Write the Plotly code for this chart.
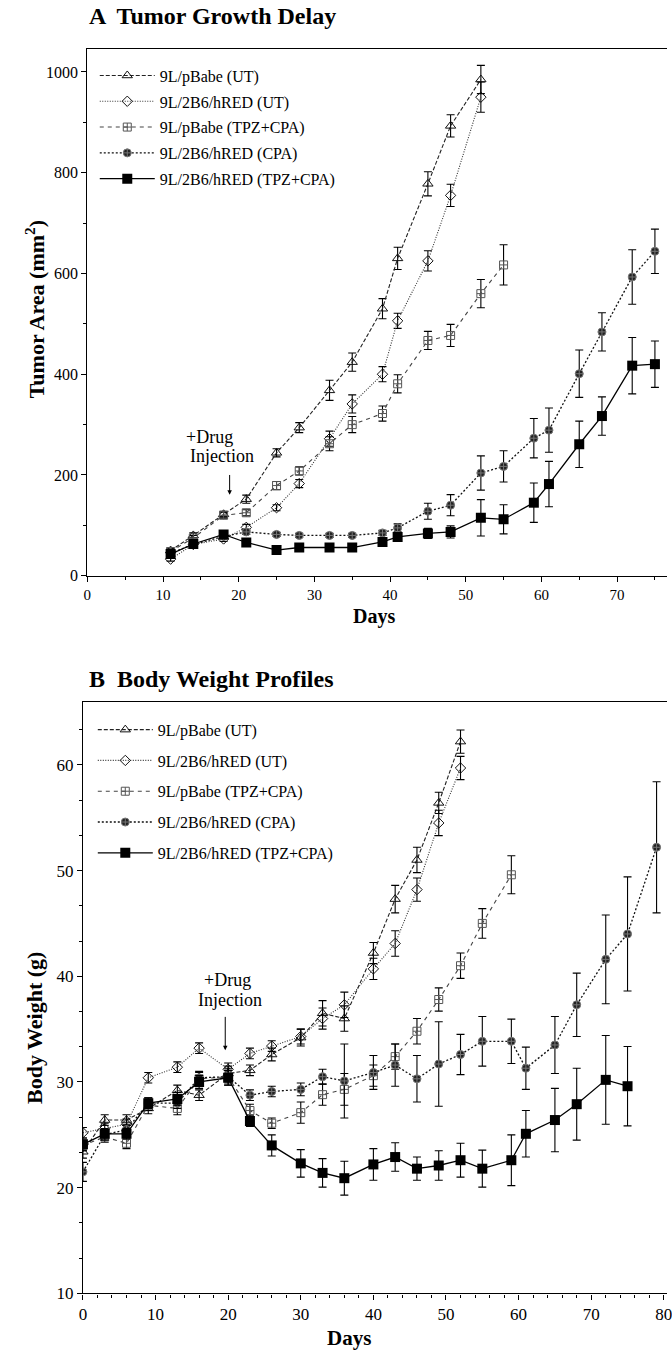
import plotly.graph_objects as go

W, H = 672, 1360

# ---------------- Panel A : Tumor growth ----------------
days_A_ut = [11, 14, 18, 21, 25, 28, 32, 35, 39, 41, 45, 48, 52]
pbabe_ut_A = [50, 80, 122, 152, 244, 294, 368, 424, 530, 630, 778, 893, 985]
pbabe_ut_A_err = [5, 5, 6, 8, 8, 10, 20, 18, 20, 22, 24, 22, 28]
hred_ut_A = [33, 62, 73, 96, 135, 183, 272, 341, 400, 506, 625, 755, 950]
hred_ut_A_err = [4, 5, 5, 6, 6, 8, 15, 18, 15, 15, 20, 22, 30]

days_A_pbtpz = [11, 14, 18, 21, 25, 28, 32, 35, 39, 41, 45, 48, 52, 55]
pbabe_tpz_A = [48, 75, 120, 125, 179, 208, 262, 300, 322, 381, 467, 477, 560, 617]
pbabe_tpz_A_err = [5, 5, 6, 6, 8, 8, 14, 16, 15, 18, 18, 22, 28, 40]

days_A_long = [11, 14, 18, 21, 25, 28, 32, 35, 39, 41, 45, 48, 52, 55, 59, 61, 65, 68, 72, 75]
hred_cpa_A = [45, 62, 78, 87, 82, 80, 80, 80, 85, 95, 128, 140, 204, 217, 273, 289, 401, 484, 593, 644]
hred_cpa_A_err = [4, 4, 5, 5, 4, 4, 4, 4, 5, 8, 16, 21, 34, 31, 39, 44, 47, 38, 54, 44]
hred_tpz_A = [43, 63, 82, 66, 51, 56, 56, 56, 67, 77, 84, 87, 115, 112, 145, 182, 261, 317, 417, 420]
hred_tpz_A_err = [4, 4, 5, 4, 3, 3, 3, 3, 4, 6, 10, 12, 36, 29, 39, 45, 46, 38, 56, 46]

# ---------------- Panel B : Body weight ----------------
days_B_ut = [0, 3, 6, 9, 13, 16, 20, 23, 26, 30, 33, 36, 40, 43, 46, 49, 52]
pbabe_ut_B = [23.4, 26.4, 26.4, 27.5, 29.2, 28.75, 30.8, 31.1, 32.6, 34.2, 36.5, 36.0, 42.2, 47.3, 51.0, 56.4, 62.2]
pbabe_ut_B_err = [0.6, 0.5, 0.5, 0.5, 0.5, 0.5, 0.7, 0.5, 0.6, 0.8, 1.2, 1.2, 1.0, 1.3, 1.2, 1.0, 1.1]
hred_ut_B = [25.2, 25.6, 26.0, 30.4, 31.4, 33.2, 31.2, 32.7, 33.4, 34.3, 36.0, 37.3, 40.7, 43.1, 48.2, 54.5, 59.7]
hred_ut_B_err = [0.5, 0.5, 0.5, 0.5, 0.5, 0.5, 0.6, 0.5, 0.5, 0.7, 1.0, 1.2, 1.0, 1.2, 1.1, 1.2, 1.1]

days_B_pbtpz = [0, 3, 6, 9, 13, 16, 20, 23, 26, 30, 33, 36, 40, 43, 46, 49, 52, 55, 59]
pbabe_tpz_B = [24.0, 24.8, 24.2, 27.8, 27.5, 30.3, 30.5, 27.3, 26.1, 27.1, 28.8, 29.3, 30.6, 32.4, 34.8, 37.8, 41.0, 45.0, 49.6]
pbabe_tpz_B_err = [0.5, 0.5, 0.5, 0.5, 0.6, 0.6, 0.8, 0.6, 0.5, 1.0, 1.0, 1.5, 1.0, 1.2, 1.2, 1.1, 1.2, 1.4, 1.8]

days_B_cpa = [0, 3, 6, 9, 13, 16, 20, 23, 26, 30, 33, 36, 40, 43, 46, 49, 52, 55, 59, 61, 65, 68, 72, 75, 79]
hred_cpa_B = [21.5, 25.0, 25.5, 28.0, 28.0, 30.4, 30.5, 28.75, 29.1, 29.3, 30.5, 30.1, 30.9, 31.6, 30.3, 31.7,
              32.6, 33.85, 33.85, 31.3, 33.5, 37.3, 41.6, 44.0, 52.2]
hred_cpa_B_err = [0.9, 0.5, 0.5, 0.5, 0.5, 0.6, 0.6, 0.5, 0.5, 0.6, 0.7, 3.5, 1.6, 2.0, 2.2, 4.0, 1.9, 2.35,
                  2.1, 2.0, 2.7, 3.0, 4.2, 5.4, 6.2]

days_B_tpz = [0, 3, 6, 9, 13, 16, 20, 23, 26, 30, 33, 36, 40, 43, 46, 49, 52, 55, 59, 61, 65, 68, 72, 75]
hred_tpz_B = [24.1, 25.1, 25.1, 28.0, 28.4, 30.0, 30.4, 26.3, 24.0, 22.3, 21.4, 20.9, 22.2, 22.9, 21.8, 22.1,
              22.6, 21.8, 22.6, 25.1, 26.4, 27.9, 30.2, 29.6]
hred_tpz_B_err = [0.6, 0.5, 0.5, 0.5, 0.6, 0.6, 0.7, 0.5, 1.0, 1.3, 1.35, 1.6, 1.5, 1.35, 1.1, 1.4, 1.6, 1.75,
                  2.4, 2.2, 3.0, 3.4, 4.2, 3.75]

names = ["9L/pBabe (UT)", "9L/2B6/hRED (UT)", "9L/pBabe (TPZ+CPA)", "9L/2B6/hRED (CPA)", "9L/2B6/hRED (TPZ+CPA)"]

styles = [
    dict(marker=dict(symbol="triangle-up-open", size=9, color="#111", line=dict(width=1, color="#111")),
         line=dict(color="#222", width=1.1, dash="4px,2px")),
    dict(marker=dict(symbol="diamond-open", size=8, color="#111", line=dict(width=1, color="#111")),
         line=dict(color="#333", width=1.1, dash="1px,1.5px")),
    dict(marker=dict(symbol="square-cross-open", size=8, color="#555", line=dict(width=1, color="#555")),
         line=dict(color="#444", width=1.1, dash="4px,4px")),
    dict(marker=dict(symbol="circle-cross", size=8, color="#222", line=dict(width=1, color="#777")),
         line=dict(color="#111", width=1.3, dash="2px,2px")),
    dict(marker=dict(symbol="square", size=10, color="#000", line=dict(width=0, color="#000")),
         line=dict(color="#000", width=1.3)),
]

FONT = "Liberation Serif"
fig = go.Figure()

setA = [(days_A_ut, pbabe_ut_A, pbabe_ut_A_err), (days_A_ut, hred_ut_A, hred_ut_A_err),
        (days_A_pbtpz, pbabe_tpz_A, pbabe_tpz_A_err), (days_A_long, hred_cpa_A, hred_cpa_A_err),
        (days_A_long, hred_tpz_A, hred_tpz_A_err)]
setB = [(days_B_ut, pbabe_ut_B, pbabe_ut_B_err), (days_B_ut, hred_ut_B, hred_ut_B_err),
        (days_B_pbtpz, pbabe_tpz_B, pbabe_tpz_B_err), (days_B_cpa, hred_cpa_B, hred_cpa_B_err),
        (days_B_tpz, hred_tpz_B, hred_tpz_B_err)]

for i, (d, v, e) in enumerate(setA):
    fig.add_trace(go.Scatter(x=d, y=v, name=names[i], mode="lines+markers", xaxis="x", yaxis="y",
                             legend="legend", legendgroup="a%d" % i,
                             error_y=dict(type="data", array=e, width=4, thickness=1.1, color="#000"),
                             **styles[i]))
for i, (d, v, e) in enumerate(setB):
    fig.add_trace(go.Scatter(x=d, y=v, name=names[i], mode="lines+markers", xaxis="x2", yaxis="y2",
                             legend="legend2", legendgroup="b%d" % i,
                             error_y=dict(type="data", array=e, width=4, thickness=1.1, color="#000"),
                             **styles[i]))

def px_x(p):
    return p / W

def px_y(p):
    return 1 - p / H

def axis_common(size):
    return dict(showgrid=False, zeroline=False, showline=True, linecolor="#000", linewidth=1.2,
                ticks="outside", ticklen=5, tickcolor="#000", tickwidth=1.1,
                ticklabeloverflow="allow",
                tickfont=dict(family=FONT, size=size, color="#000"))

A_x0, A_x1, A_y0, A_y1 = 84.5, 672, 580, 49
B_x0, B_x1, B_y0, B_y1 = 80, 672, 1303, 707

fig.update_layout(
    width=W, height=H, margin=dict(l=0, r=0, t=0, b=0),
    paper_bgcolor="white", plot_bgcolor="white",
    font=dict(family=FONT, color="#000"),
    xaxis=dict(domain=[px_x(A_x0), px_x(A_x1)], range=[0, (A_x1 - A_x0) / 7.67], anchor="y",
               dtick=10, tick0=0, mirror=True,
               minor=dict(dtick=5, ticklen=3, ticks="outside", tickcolor="#000"), **axis_common(15)),
    yaxis=dict(domain=[px_y(A_y0), px_y(A_y1)], range=[0, (A_y0 - A_y1) / 0.5075], anchor="x",
               dtick=200, tick0=0,
               minor=dict(dtick=100, ticklen=3, ticks="outside", tickcolor="#000"), **axis_common(16)),
    xaxis2=dict(domain=[px_x(B_x0), px_x(B_x1)], range=[0, (B_x1 - B_x0) / 7.36], anchor="y2",
                dtick=10, tick0=0, mirror=True,
                minor=dict(dtick=2, ticklen=3, ticks="outside", tickcolor="#000"), **axis_common(17)),
    yaxis2=dict(domain=[px_y(B_y0), px_y(B_y1)], range=[10, 10 + (B_y0 - B_y1) / 10.65], anchor="x2",
                dtick=10, tick0=10,
                minor=dict(dtick=10 / 3, tick0=10, ticklen=3, ticks="outside", tickcolor="#000"), **axis_common(17)),
    legend=dict(x=px_x(92), y=px_y(59), xanchor="left", yanchor="top", bgcolor="rgba(0,0,0,0)",
                font=dict(family=FONT, size=16), itemwidth=55, tracegroupgap=2),
    legend2=dict(x=px_x(90), y=px_y(718), xanchor="left", yanchor="top", bgcolor="rgba(0,0,0,0)",
                 font=dict(family=FONT, size=16), itemwidth=55, tracegroupgap=7),
    showlegend=True,
)

ann = []
def text_ann(t, x, y, size, bold=False, angle=0, xanchor="center"):
    ann.append(dict(text=("<b>%s</b>" % t) if bold else t, x=px_x(x), y=px_y(y), xref="paper", yref="paper",
                    showarrow=False, xanchor=xanchor, yanchor="middle", textangle=angle,
                    font=dict(family=FONT, size=size, color="#000")))

text_ann("A  Tumor Growth Delay", 84, 16, 24, bold=True, xanchor="left")
text_ann("B  Body Weight Profiles", 84, 684, 24, bold=True, xanchor="left")
text_ann("Tumor Area (mm<sup>2</sup>)", 31, 312, 22, bold=True, angle=-90)
text_ann("Body Weight (g)", 31, 1036, 22, bold=True, angle=-90)
text_ann("Days", 375, 621, 20, bold=True)
text_ann("Days", 350, 1348, 21, bold=True)
text_ann("+Drug", 208, 440, 18)
text_ann("Injection", 221, 459, 18)
text_ann("+Drug", 227, 987, 18)
text_ann("Injection", 229, 1007, 18)

# arrows
ann.append(dict(x=18.8, y=161, ax=18.8, ay=203, xref="x", yref="y", axref="x", ayref="y", text="",
                showarrow=True, arrowhead=2, arrowsize=0.9, arrowwidth=1, arrowcolor="#000"))
ann.append(dict(x=19.6, y=33.0, ax=19.6, ay=36.3, xref="x2", yref="y2", axref="x2", ayref="y2", text="",
                showarrow=True, arrowhead=2, arrowsize=0.9, arrowwidth=1, arrowcolor="#000"))
fig.update_layout(annotations=ann)

fig.write_html("out.html")
